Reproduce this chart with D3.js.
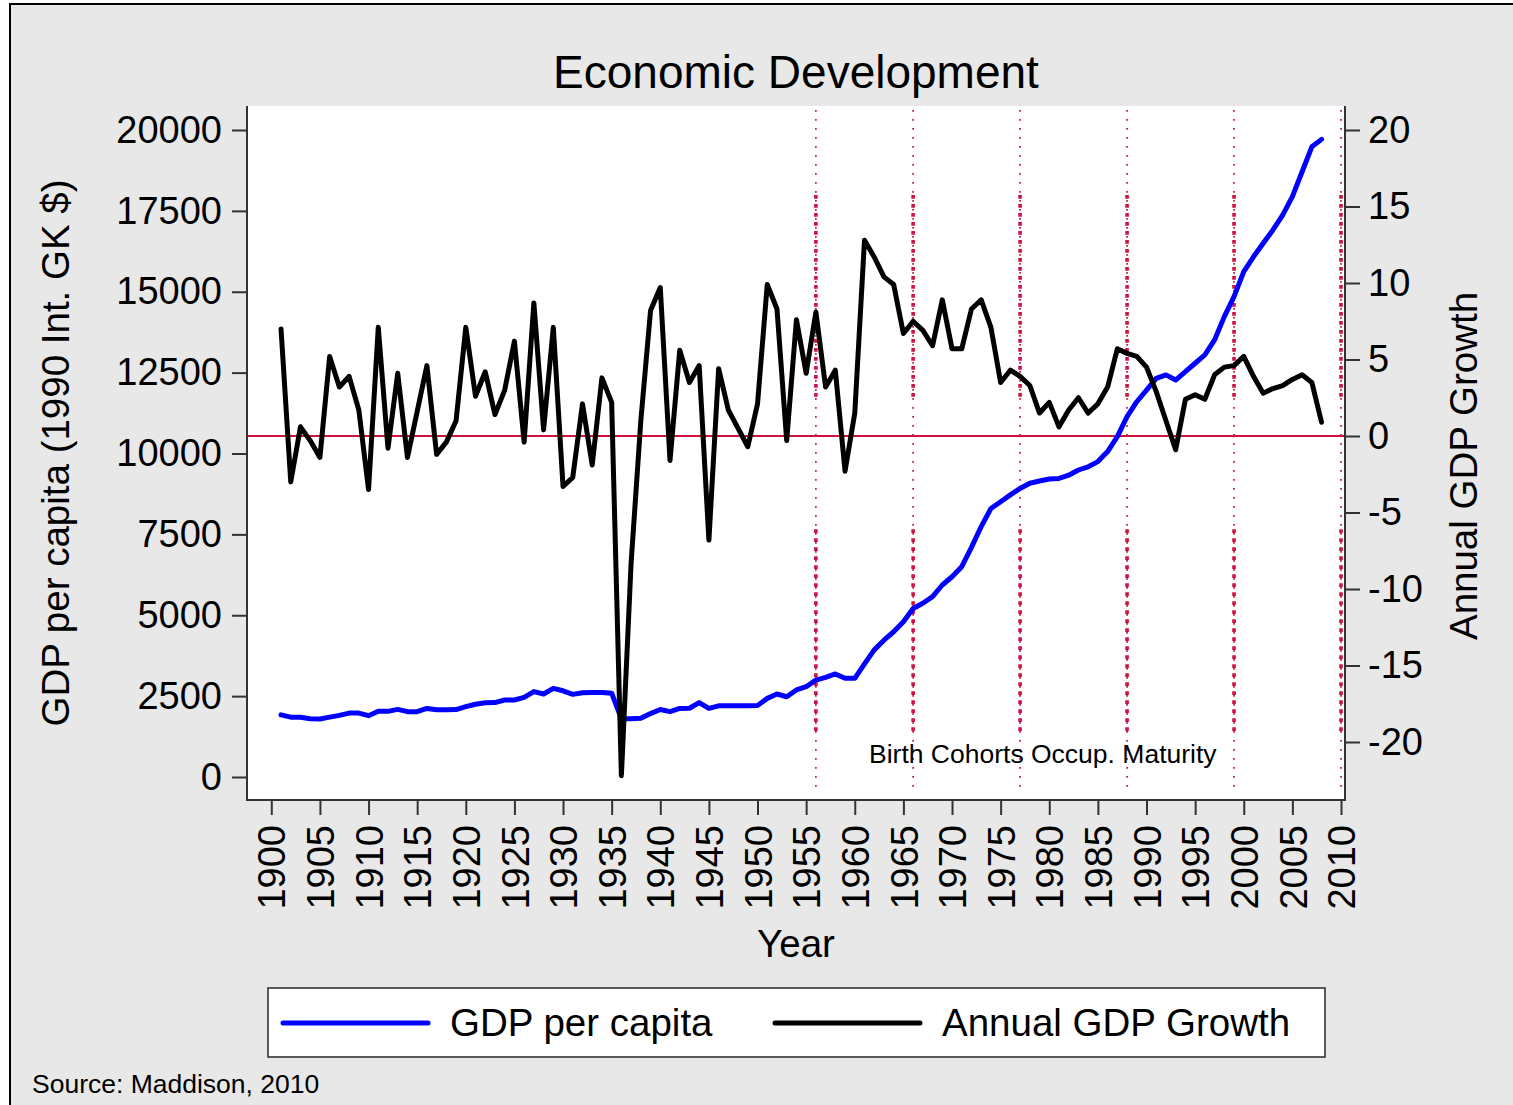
<!DOCTYPE html>
<html>
<head>
<meta charset="utf-8">
<title>Economic Development</title>
<script src="https://cdn.jsdelivr.net/npm/d3@7"></script>
<style>
  body { margin: 0; background: #fff; }
  svg { display: block; }
  text { font-family: "Liberation Sans", Arial, Helvetica, sans-serif; fill: #000; }
</style>
</head>
<body>
<svg id="chart" width="1513" height="1105"></svg>
<script>
// Spain, 1901-2008 (Maddison, 2010)
const years = d3.range(1901, 2009);

// GDP per capita, 1990 international Geary-Khamis dollars
const gdpPerCapita = [
  1920, 1850, 1845, 1800, 1795, 1850, 1905, 1975, 1975, 1895,   // 1901-1910
  2030, 2030, 2090, 2020, 2020, 2120, 2080, 2080, 2085, 2175,   // 1911-1920
  2250, 2295, 2300, 2380, 2380, 2460, 2640, 2565, 2740, 2665,   // 1921-1930
  2555, 2605, 2615, 2615, 2590, 1800, 1800, 1815, 1960, 2085,   // 1931-1940
  2020, 2120, 2125, 2300, 2120, 2200, 2205, 2205, 2205, 2210,   // 1941-1950
  2430, 2565, 2480, 2690, 2790, 2995, 3080, 3185, 3050, 3050,   // 1951-1960
  3500, 3930, 4230, 4490, 4800, 5210, 5370, 5575, 5935, 6190,   // 1961-1970
  6500, 7100, 7740, 8300, 8510, 8720, 8920, 9080, 9150, 9210,   // 1971-1980
  9230, 9330, 9490, 9590, 9750, 10060, 10520, 11140, 11600, 11960, // 1981-1990
  12320, 12430, 12270, 12530, 12790, 13050, 13510, 14230, 14850, 15620, // 1991-2000
  16080, 16500, 16910, 17370, 17940, 18710, 19480, 19710        // 2001-2008
];

// Annual GDP growth, percent
const gdpGrowth = [
  7.0, -3.0, 0.6, -0.3, -1.4, 5.2, 3.2, 3.9, 1.7, -3.5,         // 1901-1910
  7.1, -0.8, 4.1, -1.4, 1.6, 4.6, -1.2, -0.4, 1.0, 7.1,         // 1911-1920
  2.6, 4.2, 1.4, 3.0, 6.2, -0.4, 8.7, 0.4, 7.1, -3.3,           // 1921-1930
  -2.7, 2.1, -1.9, 3.8, 2.2, -22.2, -8.3, 1.0, 8.2, 9.7,        // 1931-1940
  -1.6, 5.6, 3.5, 4.6, -6.8, 4.4, 1.7, 0.5, -0.7, 2.1,          // 1941-1950
  9.9, 8.3, -0.3, 7.6, 4.1, 8.1, 3.2, 4.3, -2.3, 1.5,           // 1951-1960
  12.8, 11.7, 10.4, 9.9, 6.7, 7.5, 6.9, 5.9, 8.9, 5.7,          // 1961-1970
  5.7, 8.3, 8.9, 7.1, 3.5, 4.3, 3.9, 3.3, 1.5, 2.2,             // 1971-1980
  0.6, 1.7, 2.5, 1.5, 2.1, 3.2, 5.7, 5.4, 5.2, 4.5,             // 1981-1990
  2.9, 1.0, -0.9, 2.4, 2.7, 2.4, 4.0, 4.5, 4.6, 5.2,            // 1991-2000
  3.9, 2.8, 3.1, 3.3, 3.7, 4.0, 3.5, 0.9                        // 2001-2008
];

// Years at which birth cohorts reach occupational maturity
const cohortYears = [1956, 1966, 1977, 1988, 1999, 2010];
// Heavier dotted stretches of the cohort markers, in growth units
const cohortBands = [[2.5, 15.75], [-19.5, -6.1]];

const xTicks = d3.range(1900, 2011, 5);
const leftTicks = [0, 2500, 5000, 7500, 10000, 12500, 15000, 17500, 20000];
const rightTicks = [-20, -15, -10, -5, 0, 5, 10, 15, 20];

const legendItems = [
  { label: "GDP per capita", color: "#0000ff" },
  { label: "Annual GDP Growth", color: "#000000" }
];

// ---- layout ----
const W = 1513, H = 1105;
const plot = { left: 247, right: 1345, top: 106, bottom: 800 };
const RED = "#cf1240";
const AXIS = "#333";
const TICK_FONT = "38px", TITLE_FONT = "38.5px", NOTE_FONT = "26.5px";

const svg = d3.select("#chart");

const x = d3.scaleLinear().domain([1900, 2010]).range([271.3, 1341]);
const yL = d3.scaleLinear().domain([0, 20000]).range([777, 130]);
const yR = d3.scaleLinear().domain([-20, 20]).range([742, 130]);

// plain hyphen-minus labels
const plainFmt = d => String(d);

// page background and outer frame
svg.append("rect").attr("width", W).attr("height", H).attr("fill", "#fff");
svg.append("rect")
  .attr("x", 10).attr("y", 4).attr("width", W + 20).attr("height", H + 20)
  .attr("fill", "#e8e8e8").attr("stroke", "#000").attr("stroke-width", 2);

// plot region
svg.append("rect")
  .attr("x", plot.left).attr("y", plot.top)
  .attr("width", plot.right - plot.left).attr("height", plot.bottom - plot.top)
  .attr("fill", "#fff");

// title
svg.append("text")
  .attr("x", (plot.left + plot.right) / 2).attr("y", 88)
  .attr("text-anchor", "middle").style("font-size", "46px")
  .text("Economic Development");

// cohort markers: fine dotted full height plus heavier dotted stretches
const markers = svg.append("g");
cohortYears.forEach(yr => {
  markers.append("line")
    .attr("x1", x(yr)).attr("x2", x(yr))
    .attr("y1", plot.top + 4).attr("y2", plot.bottom - 6)
    .attr("stroke", RED).attr("stroke-width", 1.7)
    .attr("stroke-dasharray", "1.7 7.3");
  cohortBands.forEach(([lo, hi]) => {
    markers.append("line")
      .attr("x1", x(yr)).attr("x2", x(yr))
      .attr("y1", yR(hi)).attr("y2", yR(lo))
      .attr("stroke", RED).attr("stroke-width", 3.6)
      .attr("stroke-dasharray", "3.6 5.4");
  });
});

// zero-growth reference line
svg.append("line")
  .attr("x1", plot.left).attr("x2", plot.right)
  .attr("y1", yR(0)).attr("y2", yR(0))
  .attr("stroke", RED).attr("stroke-width", 1.8);

// series
const gdpLine = d3.line().x((d, i) => x(years[i])).y(d => yL(d));
const growthLine = d3.line().x((d, i) => x(years[i])).y(d => yR(d));

svg.append("path").datum(gdpPerCapita)
  .attr("d", gdpLine).attr("fill", "none")
  .attr("stroke", legendItems[0].color).attr("stroke-width", 5)
  .attr("stroke-linejoin", "round").attr("stroke-linecap", "round");

svg.append("path").datum(gdpGrowth)
  .attr("d", growthLine).attr("fill", "none")
  .attr("stroke", legendItems[1].color).attr("stroke-width", 5)
  .attr("stroke-linejoin", "round").attr("stroke-linecap", "round");

// annotation
svg.append("text")
  .attr("x", 869).attr("y", 763)
  .style("font-size", NOTE_FONT)
  .text("Birth Cohorts Occup. Maturity");

// axes
function styleAxis(g) {
  g.select(".domain").remove();
  g.selectAll(".tick line").attr("stroke", AXIS).attr("stroke-width", 2);
  g.selectAll(".tick text").style("font-size", TICK_FONT).attr("fill", "#000");
}

svg.append("g")
  .attr("transform", `translate(${plot.left},0)`)
  .call(d3.axisLeft(yL).tickValues(leftTicks).tickSize(15).tickPadding(10)
    .tickFormat(plainFmt))
  .call(styleAxis);

svg.append("g")
  .attr("transform", `translate(${plot.right},0)`)
  .call(d3.axisRight(yR).tickValues(rightTicks).tickSize(15).tickPadding(8)
    .tickFormat(plainFmt))
  .call(styleAxis);

const xAxis = svg.append("g")
  .attr("transform", `translate(0,${plot.bottom})`)
  .call(d3.axisBottom(x).tickValues(xTicks).tickSize(15).tickFormat(plainFmt))
  .call(styleAxis);
xAxis.selectAll(".tick text")
  .attr("transform", "rotate(-90)")
  .attr("x", -25).attr("y", 0).attr("dy", "0.36em")
  .style("text-anchor", "end");

// axis lines
const axisLines = svg.append("g").attr("stroke", AXIS).attr("stroke-width", 2);
axisLines.append("line").attr("x1", plot.left).attr("x2", plot.left)
  .attr("y1", plot.top).attr("y2", plot.bottom + 1);
axisLines.append("line").attr("x1", plot.right).attr("x2", plot.right)
  .attr("y1", plot.top).attr("y2", plot.bottom + 1);
axisLines.append("line").attr("x1", plot.left - 1).attr("x2", plot.right + 1)
  .attr("y1", plot.bottom).attr("y2", plot.bottom);

// axis titles
svg.append("text")
  .attr("transform", `translate(69,${(plot.top + plot.bottom) / 2}) rotate(-90)`)
  .attr("text-anchor", "middle").style("font-size", TITLE_FONT)
  .text("GDP per capita (1990 Int. GK $)");

svg.append("text")
  .attr("transform", `translate(1477,466) rotate(-90)`)
  .attr("text-anchor", "middle").style("font-size", TITLE_FONT)
  .text("Annual GDP Growth");

svg.append("text")
  .attr("x", (plot.left + plot.right) / 2).attr("y", 957)
  .attr("text-anchor", "middle").style("font-size", TITLE_FONT)
  .text("Year");

// legend
const legend = svg.append("g");
legend.append("rect")
  .attr("x", 268).attr("y", 988).attr("width", 1057).attr("height", 69)
  .attr("fill", "#fff").attr("stroke", AXIS).attr("stroke-width", 1.6);
const legendX = [283, 775];
legendItems.forEach((item, i) => {
  legend.append("line")
    .attr("x1", legendX[i]).attr("x2", legendX[i] + 145)
    .attr("y1", 1023).attr("y2", 1023)
    .attr("stroke", item.color).attr("stroke-width", 5)
    .attr("stroke-linecap", "round");
  legend.append("text")
    .attr("x", legendX[i] + 167).attr("y", 1036)
    .style("font-size", TITLE_FONT)
    .text(item.label);
});

// source note
svg.append("text")
  .attr("x", 32).attr("y", 1093)
  .style("font-size", NOTE_FONT)
  .text("Source: Maddison, 2010");
</script>
</body>
</html>
